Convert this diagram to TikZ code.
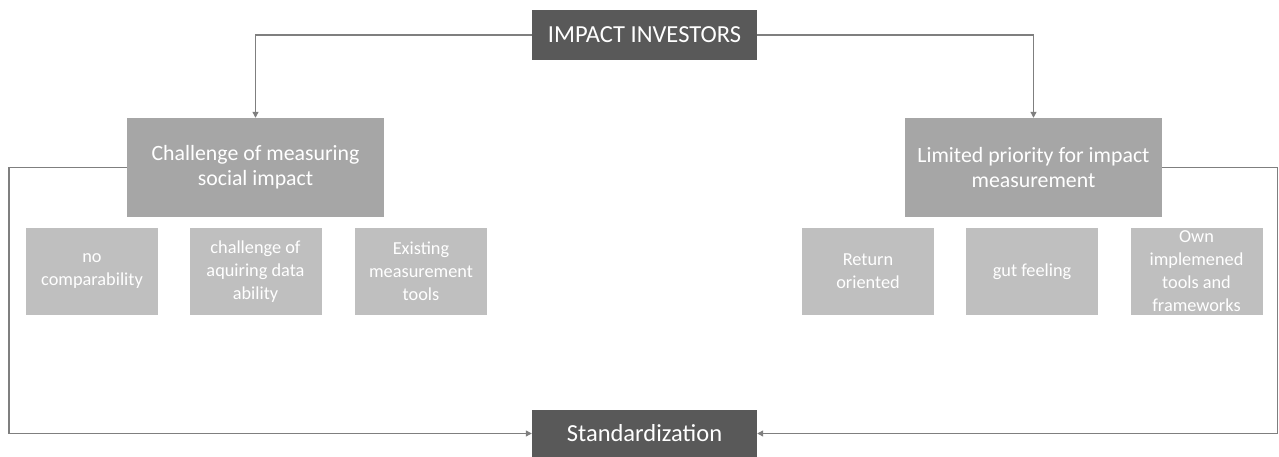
\documentclass[tikz,border=0pt]{standalone}
\usepackage{fontspec}
\setmainfont{Carlito}
\usetikzlibrary{arrows.meta}
\begin{document}
\begin{tikzpicture}[x=1pt,y=1pt,font=\fontsize{21.8}{25}\selectfont,
    box/.style={text=white,align=center,inner sep=0pt},
    head/.style={box,fill=headgrey,minimum width=225pt,font=\fontsize{24.5}{28}\selectfont},
    cause/.style={box,fill=midgrey,minimum width=257pt,minimum height=99pt},
    factor/.style={box,fill=lightgrey,minimum width=132pt,minimum height=87pt,
      font=\fontsize{18.3}{23}\selectfont},
    link/.style={draw=linegrey,line width=1.2pt,-{Triangle[width=6pt,length=6pt]}}]
  \definecolor{headgrey}{HTML}{595959}
  \definecolor{midgrey}{HTML}{A6A6A6}
  \definecolor{lightgrey}{HTML}{BFBFBF}
  \definecolor{linegrey}{HTML}{7F7F7F}
  \path[use as bounding box] (0,0) rectangle (1279,457);
  \node[head,minimum height=50pt] (investors) at (644.5,422) {IMPACT INVESTORS};
  \node[head,minimum height=47pt] (standard) at (644.5,23.5) {Standardization};
  \node[cause] (challenge) at (255.5,289.5) {Challenge of measuring\\social impact};
  \node[cause] (priority) at (1033.5,289.5) {Limited priority for impact\\measurement};
  % factors under each cause
  \foreach \x/\name/\lab in {
    92/nocomp/{no\\comparability},
    255.5/aquiring/{challenge of\\aquiring data\\ability},
    421/existing/{Existing\\measurement\\tools},
    868/return/{Return\\oriented},
    1032/gut/{gut feeling},
    1196.5/owntools/{Own\\implemened\\tools and\\frameworks}}{
    \node[factor] (\name) at (\x,185.5) {\lab};
  }
  \coordinate (leftrail) at (9,289.5);
  \coordinate (rightrail) at (1277.5,289.5);
  \draw[link] (investors.west) -| (challenge.north);
  \draw[link] (investors.east) -| (priority.north);
  \draw[link] (challenge.west) -- (leftrail) |- (standard.west);
  \draw[link] (priority.east) -- (rightrail) |- (standard.east);
\end{tikzpicture}
\end{document}
